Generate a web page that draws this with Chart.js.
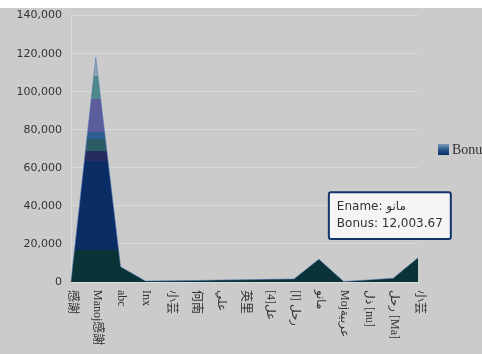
<!DOCTYPE html>
<html>
<head>
<meta charset="utf-8">
<script src="https://cdn.jsdelivr.net/npm/chart.js@4.4.0/dist/chart.umd.min.js"></script>
<style>
  html, body { margin: 0; padding: 0; background: #ffffff; overflow: hidden; }
  #wrap { position: absolute; left: 0; top: 0; width: 482px; height: 354px; }
</style>
</head>
<body>
<div id="wrap"><canvas id="c" width="482" height="354"></canvas></div>
<script>
const categories = ['感謝', 'Manoj感謝', 'abc', 'Inx', '小芸', '何南', 'علي', '英里', '[4]عل', 'رحل [ا]', 'مانو', 'Mojعربية', 'ذل [nu]', 'رحل [Ma]', '小芸'];
const bonusValues = [300, 118000, 8000, 500, 600, 800, 1000, 1200, 1400, 1600, 12003.67, 300, 1100, 2000, 12700];
const yTicks = [0, 20000, 40000, 60000, 80000, 100000, 120000, 140000];
const seriesName = 'Bonus';
const activeIndex = 10;

// colour bands of the area fill, by value
const bandTops = [17000, 63500, 68800, 75100, 78800, 96300, 108500, 140000];
const bandColors = ['#0a3338', '#0a2d66', '#272b60', '#2c5d64', '#2f5e92', '#5c5d9c', '#4c898d', '#8fa5b8'];

function areaFill(context) {
  const chart = context.chart;
  const area = chart.chartArea;
  const y = chart.scales.y;
  if (!area || !y) return '#0a2d66';
  const y0 = y.getPixelForValue(0);
  const y1 = y.getPixelForValue(140000);
  const g = chart.ctx.createLinearGradient(0, y0, 0, y1);
  let lo = 0;
  for (let i = 0; i < bandTops.length; i++) {
    const a = lo / 140000, b = bandTops[i] / 140000;
    g.addColorStop(Math.min(a, 1), bandColors[i]);
    g.addColorStop(Math.min(b, 1), bandColors[i]);
    lo = bandTops[i];
  }
  return g;
}

const bgPlugin = {
  id: 'bg',
  beforeDraw(chart) {
    const ctx = chart.ctx;
    ctx.save();
    ctx.fillStyle = '#ffffff';
    ctx.fillRect(0, 0, chart.width, chart.height);
    ctx.fillStyle = '#cbcbcb';
    ctx.fillRect(0, 8, chart.width, chart.height - 8);
    ctx.restore();
  }
};

const xLabelPlugin = {
  id: 'xlabels',
  afterDraw(chart) {
    const ctx = chart.ctx;
    const xs = chart.scales.x;
    const top = chart.chartArea.bottom + 8;
    ctx.save();
    ctx.fillStyle = '#333333';
    ctx.font = '12px "Liberation Serif", "Noto Sans CJK SC", serif';
    ctx.textAlign = 'left';
    ctx.textBaseline = 'middle';
    categories.forEach((lab, i) => {
      const x = xs.getPixelForValue(i);
      ctx.save();
      ctx.translate(x + 1, top);
      ctx.rotate(Math.PI / 2);
      ctx.fillText(lab, 0, 0);
      ctx.restore();
    });
    // legend
    const lx = 438, ly = 144;
    const g = ctx.createLinearGradient(0, ly, 0, ly + 11);
    g.addColorStop(0, '#7f9ab8');
    g.addColorStop(0.45, '#2f5e92');
    g.addColorStop(1, '#0a2d66');
    ctx.fillStyle = g;
    ctx.fillRect(lx, ly, 11, 11);
    ctx.fillStyle = '#333333';
    ctx.font = '14px "Liberation Serif", serif';
    ctx.textBaseline = 'middle';
    ctx.fillText(seriesName, lx + 14, ly + 6);
    ctx.restore();
  }
};

Chart.Tooltip.positioners.fixedBox = function(elements) {
  if (!elements.length) return false;
  const el = elements[0].element;
  return { x: el.x + 12, y: el.y - 67 };
};

const chart = new Chart(document.getElementById('c'), {
  type: 'line',
  data: {
    labels: categories,
    datasets: [{
      label: seriesName,
      data: bonusValues,
      fill: 'origin',
      backgroundColor: areaFill,
      borderColor: 'rgba(80,120,180,0.55)',
      borderWidth: 1,
      pointRadius: 0,
      pointHoverRadius: 0,
      tension: 0
    }]
  },
  options: {
    responsive: false,
    animation: false,
    events: [],
    layout: { padding: { left: 0, right: 64, top: 15, bottom: 0 } },
    plugins: {
      legend: { display: false },
      tooltip: {
        enabled: true,
        position: 'fixedBox',
        xAlign: 'left',
        yAlign: 'top',
        caretSize: 0,
        caretPadding: 0,
        cornerRadius: 2,
        backgroundColor: '#f5f5f5',
        borderColor: '#13346b',
        borderWidth: 2,
        bodyColor: '#333333',
        bodyFont: { family: '"DejaVu Sans", sans-serif', size: 12 },
        bodySpacing: 2,
        padding: { x: 8, y: 8 },
        displayColors: false,
        callbacks: {
          title: () => '',
          label: (ctx) => ['Ename: ' + ctx.label,
            'Bonus: ' + ctx.parsed.y.toLocaleString('en-US', { minimumFractionDigits: 2, maximumFractionDigits: 2 })]
        }
      }
    },
    scales: {
      x: {
        type: 'category',
        offset: false,
        grid: { display: false, drawTicks: false },
        border: { display: true, color: '#dcdcdc', width: 1 },
        ticks: { display: false },
        afterFit(scale) { scale.height = 72; }
      },
      y: {
        min: 0,
        max: 140000,
        afterBuildTicks(scale) { scale.ticks = yTicks.map(v => ({ value: v })); },
        grid: { color: '#dadada', lineWidth: 1, drawTicks: false },
        border: { display: true, color: '#dcdcdc', width: 1 },
        ticks: {
          padding: 9,
          color: '#333333',
          font: { family: '"DejaVu Sans", sans-serif', size: 11 },
          callback: (v) => Number(v).toLocaleString('en-US')
        },
        afterFit(scale) { scale.width = 71; }
      }
    }
  },
  plugins: [bgPlugin, xLabelPlugin]
});

chart.tooltip.setActiveElements([{ datasetIndex: 0, index: activeIndex }], { x: 0, y: 0 });
chart.update();
</script>
</body>
</html>
